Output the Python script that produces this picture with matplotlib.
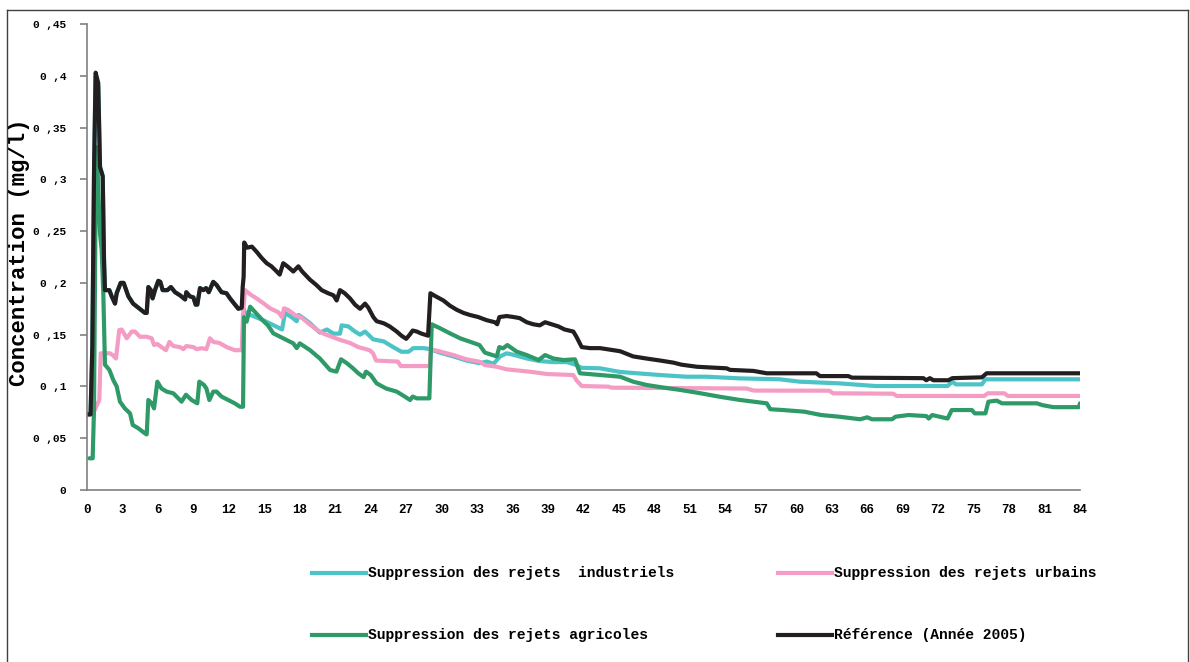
import matplotlib
matplotlib.use("Agg")
import matplotlib.pyplot as plt
from matplotlib.lines import Line2D

# Points (mois, concentration mg/l)
ref_pts = [(0.0, 0.073), (0.3, 0.073), (0.45, 0.138), (0.6, 0.312), (0.73, 0.403), (0.95, 0.393),
           (1.1, 0.312), (1.33, 0.303), (1.44, 0.222), (1.52, 0.193), (1.89, 0.193), (2.09, 0.187),
           (2.37, 0.180), (2.51, 0.190), (2.85, 0.200), (3.1, 0.200), (3.5, 0.187), (3.9, 0.180),
           (4.34, 0.176), (4.9, 0.171), (5.05, 0.171), (5.19, 0.196), (5.4, 0.193), (5.55, 0.185),
           (5.75, 0.193), (6.03, 0.202), (6.2, 0.201), (6.4, 0.193), (6.8, 0.193), (7.1, 0.196),
           (7.45, 0.191), (7.87, 0.188), (8.3, 0.184), (8.4, 0.191), (8.7, 0.187), (9.0, 0.186),
           (9.19, 0.179), (9.33, 0.179), (9.56, 0.195), (9.84, 0.193), (10.07, 0.195), (10.3, 0.191),
           (10.68, 0.201), (10.96, 0.198), (11.38, 0.191), (11.8, 0.190), (12.1, 0.185), (12.52, 0.179),
           (12.8, 0.175), (13.09, 0.176), (13.17, 0.196), (13.25, 0.206), (13.3, 0.239), (13.55, 0.234),
           (13.95, 0.235), (14.35, 0.230), (14.78, 0.224), (15.2, 0.219), (15.6, 0.216), (16.05, 0.211),
           (16.3, 0.208), (16.6, 0.219), (16.95, 0.216), (17.45, 0.211), (17.88, 0.216), (18.2, 0.211),
           (18.87, 0.203), (19.4, 0.198), (19.85, 0.193), (20.4, 0.190), (20.85, 0.188), (21.12, 0.183),
           (21.4, 0.193), (21.8, 0.190), (22.25, 0.185), (22.67, 0.179), (23.1, 0.175), (23.52, 0.180),
           (23.8, 0.176), (24.22, 0.167), (24.5, 0.163), (25.1, 0.161), (25.6, 0.158), (26.2, 0.153),
           (26.6, 0.149), (27.0, 0.146), (27.3, 0.150), (27.55, 0.154), (27.9, 0.153), (28.3, 0.151),
           (28.85, 0.149), (29.05, 0.190), (29.5, 0.187), (30.15, 0.183), (30.7, 0.178), (31.28, 0.174),
           (31.85, 0.171), (32.4, 0.169), (33.1, 0.167), (33.8, 0.164), (34.5, 0.162), (34.7, 0.160),
           (34.88, 0.167), (35.5, 0.168), (36.1, 0.167), (36.6, 0.166), (37.2, 0.162), (37.76, 0.160),
           (38.3, 0.159), (38.75, 0.162), (39.3, 0.160), (39.87, 0.158), (40.4, 0.155), (41.14, 0.153),
           (41.4, 0.148), (41.85, 0.138), (42.55, 0.137), (43.4, 0.137), (44.5, 0.135), (45.1, 0.134),
           (46.2, 0.129), (47.3, 0.127), (48.5, 0.125), (49.6, 0.123), (50.3, 0.121), (51.6, 0.119),
           (54.1, 0.1175), (54.4, 0.116), (56.37, 0.115), (57.5, 0.1127), (61.7, 0.1127), (62.0, 0.110),
           (64.4, 0.110), (64.7, 0.1085), (70.75, 0.108), (71.0, 0.106), (71.3, 0.108), (71.6, 0.106),
           (72.87, 0.106), (73.2, 0.108), (75.7, 0.1088), (76.1, 0.1127), (84.0, 0.1127)]

indus_pts = [(0.0, 0.073), (0.3, 0.073), (0.45, 0.138), (0.6, 0.312), (0.73, 0.400), (0.95, 0.390),
             (1.1, 0.312), (1.33, 0.303), (1.44, 0.222), (1.52, 0.193), (1.89, 0.193), (2.09, 0.187),
             (2.37, 0.180), (2.51, 0.190), (2.85, 0.200), (3.1, 0.200), (3.5, 0.187), (3.9, 0.180),
             (4.34, 0.176), (4.9, 0.171), (5.05, 0.171), (5.19, 0.196), (5.4, 0.193), (5.55, 0.185),
             (5.75, 0.193), (6.03, 0.202), (6.2, 0.201), (6.4, 0.193), (6.8, 0.193), (7.1, 0.196),
             (7.45, 0.191), (7.87, 0.188), (8.3, 0.184), (8.4, 0.191), (8.7, 0.187), (9.0, 0.186),
             (9.19, 0.179), (9.33, 0.179), (9.56, 0.195), (9.84, 0.193), (10.07, 0.195), (10.3, 0.191),
             (10.68, 0.201), (10.96, 0.198), (11.38, 0.191), (11.8, 0.190), (12.1, 0.185), (12.52, 0.179),
             (12.8, 0.175), (13.09, 0.176), (13.28, 0.174), (13.4, 0.171), (14.9, 0.164), (15.8, 0.159),
             (16.5, 0.155), (16.75, 0.171), (17.3, 0.167), (17.74, 0.163), (17.9, 0.169), (18.3, 0.166),
             (18.87, 0.161), (19.7, 0.152), (20.3, 0.155), (20.84, 0.151), (21.4, 0.151), (21.54, 0.159),
             (22.1, 0.158), (22.67, 0.153), (23.1, 0.150), (23.52, 0.153), (23.8, 0.150), (24.2, 0.1455),
             (25.1, 0.1435), (25.9, 0.138), (26.6, 0.1335), (27.2, 0.1335), (27.6, 0.137), (28.5, 0.137),
             (29.0, 0.136), (29.87, 0.1326), (31.0, 0.129), (32.1, 0.125), (33.2, 0.1225), (33.8, 0.124),
             (34.4, 0.122), (34.94, 0.129), (35.5, 0.132), (36.1, 0.1305), (37.2, 0.127), (38.3, 0.1245),
             (39.45, 0.1235), (40.6, 0.1235), (41.4, 0.1207), (41.8, 0.118), (43.4, 0.1175), (45.1, 0.114),
             (46.2, 0.113), (48.5, 0.111), (50.7, 0.1094), (52.4, 0.1094), (55.2, 0.1078), (58.6, 0.1069),
             (60.3, 0.1046), (63.6, 0.103), (66.7, 0.1004), (72.8, 0.1004), (73.2, 0.1046), (73.5, 0.102),
             (75.7, 0.102), (76.0, 0.1069), (84.0, 0.1069)]

urb_pts = [(0.0, 0.072), (0.53, 0.074), (1.04, 0.087), (1.16, 0.132), (1.95, 0.132), (2.2, 0.130),
           (2.45, 0.127), (2.73, 0.1545), (2.94, 0.155), (3.36, 0.1465), (3.78, 0.153), (4.06, 0.153),
           (4.48, 0.148), (5.05, 0.148), (5.47, 0.1465), (5.67, 0.140), (5.95, 0.141), (6.3, 0.138),
           (6.68, 0.135), (6.97, 0.143), (7.3, 0.139), (7.87, 0.138), (8.15, 0.136), (8.4, 0.139),
           (9.0, 0.138), (9.28, 0.136), (9.7, 0.137), (10.1, 0.136), (10.4, 0.1465), (10.68, 0.143),
           (11.2, 0.142), (11.82, 0.138), (12.5, 0.135), (13.09, 0.135), (13.2, 0.171), (13.37, 0.193),
           (13.8, 0.189), (14.35, 0.185), (14.9, 0.1805), (15.48, 0.1755), (16.2, 0.1715), (16.5, 0.167),
           (16.67, 0.1755), (17.0, 0.174), (17.6, 0.169), (18.2, 0.166), (18.72, 0.161), (19.4, 0.155),
           (20.0, 0.151), (20.7, 0.148), (21.4, 0.145), (22.25, 0.142), (22.95, 0.138), (23.9, 0.135),
           (24.2, 0.132), (24.45, 0.125), (26.3, 0.124), (26.54, 0.1197), (29.0, 0.1197), (29.08, 0.136),
           (29.9, 0.1336), (31.0, 0.1303), (32.1, 0.1262), (33.2, 0.1239), (33.65, 0.1207), (34.66, 0.119),
           (35.5, 0.1165), (37.5, 0.1142), (38.9, 0.112), (41.14, 0.111), (41.4, 0.106), (41.85, 0.1004),
           (44.1, 0.0998), (44.4, 0.0988), (49.1, 0.0985), (55.8, 0.098), (56.4, 0.096), (62.8, 0.0959),
           (63.1, 0.0934), (68.2, 0.093), (68.5, 0.0908), (75.9, 0.0908), (76.2, 0.0934), (77.6, 0.0934),
           (77.9, 0.0908), (84.0, 0.0908)]

agri_pts = [(0.2, 0.0306), (0.48, 0.0306), (0.59, 0.077), (0.76, 0.325), (0.82, 0.331), (1.1, 0.248),
            (1.24, 0.232), (1.38, 0.19), (1.52, 0.121), (1.89, 0.116), (2.23, 0.106), (2.51, 0.100),
            (2.79, 0.0853), (3.2, 0.0788), (3.64, 0.074), (3.87, 0.0628), (4.34, 0.0596), (4.9, 0.0547),
            (5.05, 0.0537), (5.19, 0.0869), (5.47, 0.0837), (5.67, 0.0788), (5.95, 0.1046), (6.3, 0.098),
            (6.74, 0.095), (7.3, 0.0934), (7.73, 0.0885), (8.0, 0.0853), (8.37, 0.092), (8.85, 0.0869),
            (9.33, 0.0837), (9.5, 0.1046), (9.9, 0.1014), (10.1, 0.098), (10.35, 0.0869), (10.68, 0.095),
            (10.96, 0.095), (11.38, 0.0902), (11.94, 0.0869), (12.5, 0.0837), (12.94, 0.0804), (13.2, 0.0804),
            (13.28, 0.167), (13.5, 0.1625), (13.8, 0.177), (14.2, 0.172), (14.78, 0.1648), (15.3, 0.159),
            (15.76, 0.1513), (16.6, 0.1465), (17.45, 0.1416), (17.74, 0.137), (18.0, 0.1416), (18.87, 0.135),
            (19.7, 0.127), (20.56, 0.1159), (21.1, 0.1143), (21.49, 0.1262), (22.0, 0.1223), (22.5, 0.1175),
            (22.95, 0.1127), (23.4, 0.109), (23.6, 0.1143), (24.0, 0.111), (24.5, 0.103), (25.3, 0.098),
            (26.2, 0.095), (26.8, 0.0908), (27.33, 0.0869), (27.55, 0.0902), (27.9, 0.0885), (28.96, 0.0885),
            (29.16, 0.160), (29.9, 0.156), (30.7, 0.1513), (31.56, 0.1465), (32.4, 0.1432), (33.2, 0.140),
            (33.67, 0.1326), (34.66, 0.129), (34.88, 0.138), (35.2, 0.1368), (35.56, 0.140), (36.35, 0.1336),
            (37.2, 0.1303), (38.2, 0.1255), (38.75, 0.1303), (39.45, 0.127), (40.3, 0.1255), (41.28, 0.1262),
            (41.7, 0.1127), (43.4, 0.111), (45.1, 0.1094), (46.2, 0.1046), (47.35, 0.1014), (48.7, 0.099),
            (50.2, 0.0966), (51.9, 0.0934), (53.55, 0.090), (55.2, 0.087), (56.37, 0.0853), (57.5, 0.0837),
            (57.8, 0.078), (58.9, 0.0772), (60.7, 0.0756), (62.1, 0.0724), (63.6, 0.0708), (65.4, 0.0683),
            (66.0, 0.0702), (66.4, 0.0683), (68.1, 0.0683), (68.4, 0.0708), (69.5, 0.0724), (71.0, 0.0714),
            (71.2, 0.069), (71.5, 0.0724), (72.1, 0.0708), (72.8, 0.069), (73.15, 0.0772), (74.85, 0.0772),
            (75.1, 0.074), (76.0, 0.074), (76.25, 0.0853), (76.95, 0.0863), (77.4, 0.0837), (80.35, 0.0837),
            (80.8, 0.082), (81.75, 0.080), (83.9, 0.080), (84.0, 0.0837)]

labels = ['Suppression des rejets  industriels', 'Suppression des rejets urbains',
          'Suppression des rejets agricoles', 'Référence (Année 2005)']
colors = ['#4cc3c6', '#f59cc4', '#2e9a68', '#231f20']
series = [indus_pts, urb_pts, agri_pts, ref_pts]

y_ticks = [0, 0.05, 0.1, 0.15, 0.2, 0.25, 0.3, 0.35, 0.4, 0.45]
y_ticklabels = ['0', '0 ,05', '0 ,1', '0 ,15', '0 ,2', '0 ,25', '0 ,3', '0 ,35', '0 ,4', '0 ,45']
x_labels = list(range(0, 85, 3))

mono = 'Liberation Mono'

fig = plt.figure(figsize=(11.9, 6.62), dpi=100)
ax = fig.add_axes([87 / 1190, 1 - 490 / 662, 993 / 1190, 466 / 662])

for pts, c in zip(series, colors):
    xs = [p[0] for p in pts]
    ys = [p[1] for p in pts]
    ax.plot(xs, ys, color=c, linewidth=3, solid_joinstyle='round', solid_capstyle='round')

ax.set_xlim(0, 84)
ax.set_ylim(0, 0.45)
for s in ['top', 'right']:
    ax.spines[s].set_visible(False)
for s in ['left', 'bottom']:
    ax.spines[s].set_color('#808080')
    ax.spines[s].set_linewidth(1.2)

ax.set_yticks(y_ticks)
ax.set_yticklabels(y_ticklabels, fontfamily=mono, fontweight='bold', fontsize=8)
ax.tick_params(axis='y', direction='out', length=5, color='#808080', width=1.2, pad=10)

ax.set_xticks(x_labels)
ax.set_xticklabels([str(v) for v in x_labels], fontfamily=mono, fontweight='bold', fontsize=9)
ax.tick_params(axis='x', which='major', length=0, pad=10)
ax.set_xticks(list(range(0, 85, 6)), minor=True)
ax.tick_params(axis='x', which='minor', direction='out', length=5, color='#808080', width=1.2)

ax.set_ylabel('Concentration (mg/l)', fontfamily=mono, fontweight='bold', fontsize=16)
ax.yaxis.set_label_coords(-0.057, 0.51)

# legende en deux colonnes sous le graphique
leg_pos = [(312, 573), (778, 573), (312, 635), (778, 635)]
for (px, py), lab, c in zip(leg_pos, labels, colors):
    yf = 1 - py / 662
    fig.add_artist(Line2D([px / 1190, (px + 54) / 1190], [yf, yf], color=c, linewidth=3,
                          transform=fig.transFigure))
    fig.text((px + 56) / 1190, yf, lab, fontfamily=mono, fontweight='bold', fontsize=10.5,
             va='center', ha='left')

# cadre exterieur
for xs_, ys_ in [([7, 7], [0, 652]), ([7, 1188], [652, 652]), ([1188, 1188], [652, 0])]:
    fig.add_artist(Line2D([v / 1190 for v in xs_], [v / 662 for v in ys_], color='#404040',
                          linewidth=1, transform=fig.transFigure))

fig.savefig('out.png', dpi=100)
